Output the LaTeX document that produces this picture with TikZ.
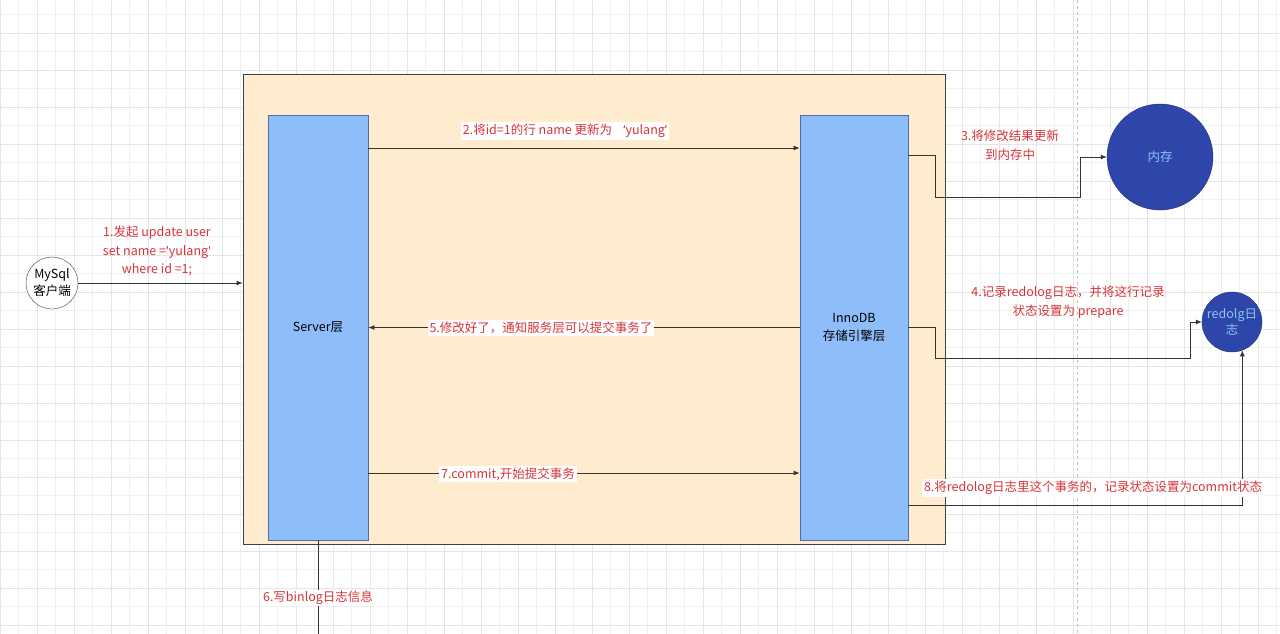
\documentclass[tikz,border=0pt]{standalone}
\usepackage{fontspec}
\setmainfont{Noto Sans CJK SC}
\newfontfamily\latinq{Noto Sans}
\usetikzlibrary{arrows.meta,positioning}
\definecolor{paper}{HTML}{FFECCF}
\definecolor{layer}{HTML}{8EBDF9}
\definecolor{layerline}{HTML}{4A6FA8}
\definecolor{store}{HTML}{2E46AA}
\definecolor{storetext}{HTML}{8CC4F2}
\definecolor{note}{HTML}{D6333A}
\newcommand{\sq}{{\latinq\symbol{39}}}
\tikzset{
  flow/.style={draw=black!80, line width=0.8pt, -{Latex[length=6pt,width=5pt]}},
  layerbox/.style={draw=layerline, fill=layer, line width=0.8pt, minimum width=100, minimum height=425, align=center},
  storecircle/.style={circle, draw=store!70!black, fill=store, text=storetext, align=center, inner sep=0pt},
  notetext/.style={text=note, align=center, font=\fontsize{12.5}{18.5}\selectfont, inner sep=1pt},
  notebox/.style={notetext, fill=white, inner sep=2pt}
}
\begin{document}
\begin{tikzpicture}[x=1pt,y=-1pt, font=\fontsize{12.5}{18}\selectfont]
		%%%%% START %%%%%
		\useasboundingbox (0,0) rectangle (1280,634);
		\fill[white] (0,0) rectangle (1280,634);
		
		% grid
		\foreach \gx in {0,18.5,...,1280} \draw[black!6, line width=0.6pt] (\gx,0) -- (\gx,634);
		\foreach \gy in {-4,14.5,...,634} \draw[black!6, line width=0.6pt] (0,\gy) -- (1280,\gy);
		\foreach \gx in {0,37,...,1280} \draw[black!10, line width=0.8pt] (\gx,0) -- (\gx,634);
		\foreach \gy in {-4,33,...,634} \draw[black!10, line width=0.8pt] (0,\gy) -- (1280,\gy);
		\draw[black!25, dashed, line width=0.8pt] (1077,0) -- (1077,634);
		
		% frame and layers
		\node[draw=black!75, fill=paper, line width=0.8pt, minimum width=702, minimum height=470, inner sep=0pt] (frame) at (594,309) {};
		\node[layerbox] (srv) at (318,327.5) {Server层};
		\node[layerbox, minimum width=108] (inno) at (854,327.5) {InnoDB\\存储引擎层};
		
		% client and storage
		\node[circle, draw=black!75, fill=white, minimum size=52, inner sep=0pt, align=center, font=\fontsize{12.5}{17}\selectfont] (client) at (52,283) {MySql\\客户端};
		\node[storecircle, minimum size=106] (mem) at (1160,157) {内存};
		\node[storecircle, minimum size=60, font=\fontsize{12.5}{16}\selectfont] (redo) at (1232,322) {redolg日\\志};
		
		% bends and rows
		\coordinate (row2) at (0,148);
		\coordinate (row3) at (0,155);
		\coordinate (row4) at (0,327);
		\coordinate (row7) at (0,473);
		\coordinate (row8) at (0,505);
		\coordinate (bend3) at (1080,197);
		\coordinate (bend4) at (1190,358);
		\coordinate (binlog) at (318,640);
		
		% 1
		\draw[flow] (client.east) -- (client.east -| frame.west);
		\node[notetext] (n1) at (157,251) {1.发起 update user\\set name =\sq yulang\sq\\where id =1;};
		
		% 2
		\draw[flow] (srv.east |- row2) -- (inno.west |- row2);
		\node[notebox] (n2) at (565,131) {2.将id=1的行 name 更新为\hspace{0.9em}{\latinq ‘}yulang{\latinq ’}};
		
		% 3
		\draw[flow] (inno.east |- row3) -- ++(27,0) |- (bend3) |- (mem.west);
		\node[notetext] (n3) at (1010,145) {3.将修改结果更新\\到内存中};
		
		% 4
		\draw[flow] (inno.east |- row4) -- ++(27,0) |- (bend4) |- (redo.west);
		\node[notetext] (n4) at (1068,302) {4.记录redolog日志，并将这行记录\\状态设置为 prepare};
		
		% 5
		\draw[flow] (inno.west) -- (srv.east);
		\node[notebox] (n5) at (541,328) {5.修改好了，通知服务层可以提交事务了};
		
		% 6
		\draw[flow] (srv.south) -- (binlog);
		\node[notetext, fill=white] (n6) at (318,598) {6.写binlog日志信息};
		
		% 7
		\draw[flow] (srv.east |- row7) -- (inno.west |- row7);
		\node[notebox] (n7) at (508,474) {7.commit,开始提交事务};
		
		% 8
		\draw[flow] (inno.east |- row8) -| (redo.-70);
		\node[notebox] (n8) at (1093,488) {8.将redolog日志里这个事务的，记录状态设置为commit状态};
		
		%%%%% END %%%%%
	\end{tikzpicture}
\end{document}
